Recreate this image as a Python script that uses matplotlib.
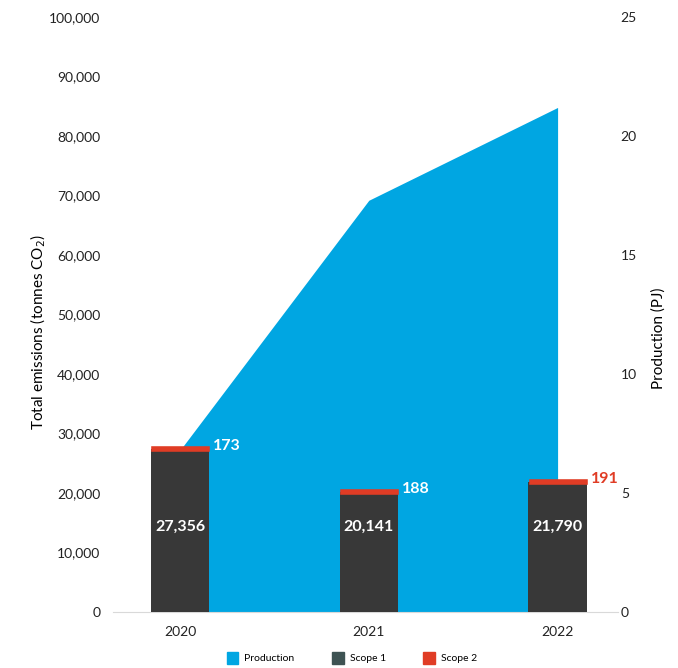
import numpy as np
import matplotlib.pyplot as plt
from matplotlib.patches import Patch

plt.rcParams['font.family'] = ['Lato', 'DejaVu Sans']

years = ["2020", "2021", "2022"]
scope1 = [27356, 20141, 21790]
scope2 = [173, 188, 191]
production = [6.8, 17.3, 21.2]

c_prod = "#00A6E2"
c_s1 = "#383838"
c_s1_legend = "#3E5353"
c_s2 = "#E03C25"

fig = plt.figure(figsize=(6.78, 6.68), dpi=100)
ax = fig.add_axes([113/678, 56/668, 505/678, 595/668])
ax2 = ax.twinx()

x = np.arange(len(years))

ax2.fill_between(x, 0, production, color=c_prod, linewidth=0, zorder=1)
ax2.set_ylim(0, 25)
ax2.set_yticks([0, 5, 10, 15, 20, 25])

ax.set_zorder(ax2.get_zorder() + 1)
ax.patch.set_visible(False)

w = 0.31
ax.bar(x, scope1, width=w, color=c_s1, zorder=3)
# thin scope 2 layer, stroked so it stays visible (narrowed so stroke fits bar width)
ax.bar(x, scope2, width=w - 0.024, bottom=scope1, color=c_s2, edgecolor=c_s2,
       linewidth=3.3, joinstyle="miter", zorder=3)
ax.set_ylim(0, 100000)
ax.set_yticks(np.arange(0, 100001, 10000))
ax.set_yticklabels([f"{v:,}" for v in range(0, 100001, 10000)])
ax.set_xlim(-0.355, 2.32)
ax.set_xticks(x)
ax.set_xticklabels(years)

s2_colors = ["white", "white", c_s2]
for i in range(len(years)):
    ax.text(x[i], 14300, f"{scope1[i]:,}", color="white", fontsize=11.5,
            fontweight="bold", ha="center", va="center", zorder=4)
    ax.text(x[i] + w/2 + 0.02, scope1[i] + scope2[i] + 300, f"{scope2[i]}",
            color=s2_colors[i], fontsize=11.5, fontweight="bold",
            ha="left", va="center", zorder=4)

for a in (ax, ax2):
    for s in ["top", "left", "right"]:
        a.spines[s].set_visible(False)
    a.tick_params(length=0, labelsize=10, colors="#222222")
ax2.spines["bottom"].set_visible(False)
ax.spines["bottom"].set_color("#d9d9d9")
ax.tick_params(axis="y", pad=9)
ax.tick_params(axis="x", pad=10)
ax2.tick_params(axis="y", pad=2)

ax.set_ylabel("Total emissions (tonnes CO$_2$)", fontsize=11, labelpad=1)
ax.yaxis.label.set_y(0.47)
ax2.set_ylabel("Production (PJ)", fontsize=11, labelpad=10)
ax2.yaxis.label.set_y(0.46)

handles = [Patch(color=c_prod, label="Production"),
           Patch(color=c_s1_legend, label="Scope 1"),
           Patch(color=c_s2, label="Scope 2")]
fig.legend(handles=handles, loc="center", bbox_to_anchor=(352/678, 1 - 658/668),
           ncol=3, frameon=False, fontsize=7.5, handlelength=1.1, handleheight=1.5,
           columnspacing=3.6, handletextpad=0.6)

fig.savefig("out.png", dpi=100)
